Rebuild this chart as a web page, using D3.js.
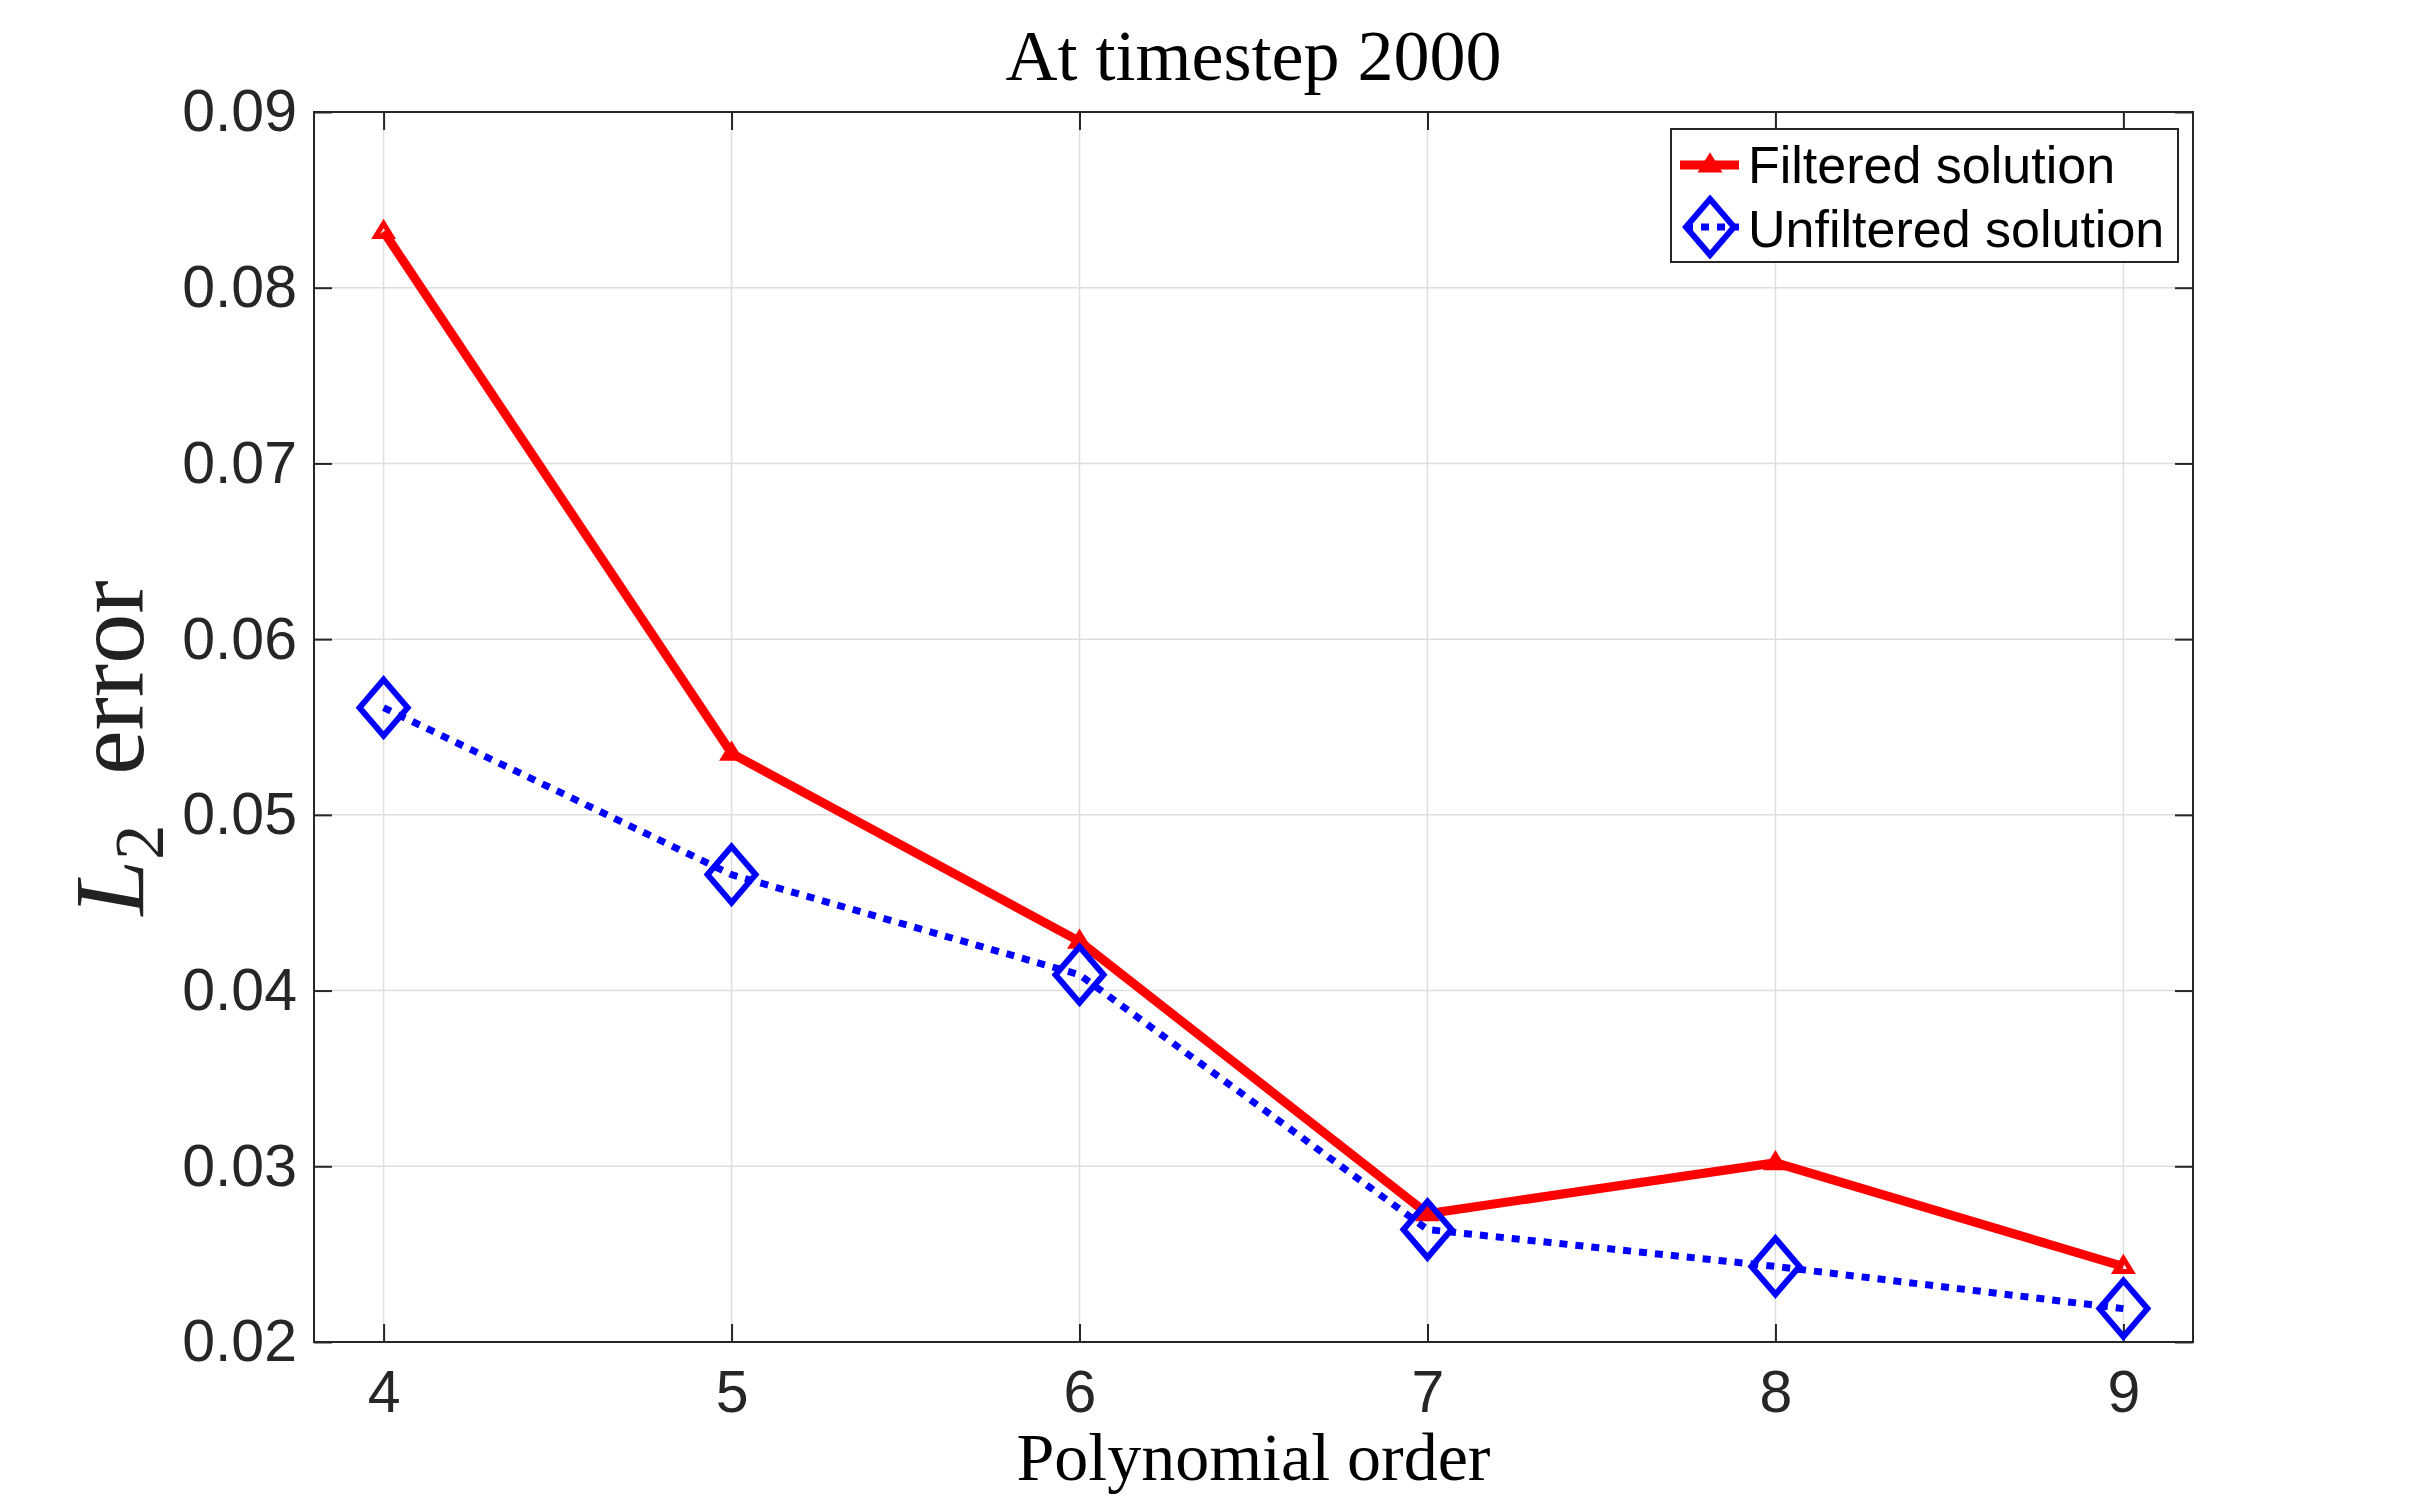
<!DOCTYPE html>
<html>
<head>
<meta charset="utf-8">
<script src="https://cdn.jsdelivr.net/npm/d3@7"></script>
<style>
    body { margin: 0; background: #fff; }
    .tick text { font-family: "Liberation Sans", Arial, sans-serif; fill: #262626; }
</style>
</head>
<body>
<div id="chart"></div>
<script>
const orders = [4, 5, 6, 7, 8, 9];
const filtered = [0.0832, 0.0535, 0.0428, 0.0273, 0.0302, 0.0243];
const unfiltered = [0.0561, 0.0466, 0.0409, 0.0264, 0.0243, 0.0219];
const yTicks = [0.02, 0.03, 0.04, 0.05, 0.06, 0.07, 0.08, 0.09];
const seriesNames = ["Filtered solution", "Unfiltered solution"];

const width = 2424, height = 1508;
const margin = {left: 314, right: 231, top: 112, bottom: 166};
const innerW = width - margin.left - margin.right;
const innerH = height - margin.top - margin.bottom;
const axisColor = "#262626";

let x = d3.scaleLinear().domain([3.8, 9.2]).range([0, innerW]);
let y = d3.scaleLinear().domain([0.02, 0.09]).range([innerH, 0]);

const svg = d3.select("#chart")
    .append("svg")
    .attr("width", width)
    .attr("height", height);

const g = svg.append("g")
    .attr("transform", "translate(" + margin.left + "," + margin.top + ")");

// grid
g.append("g")
    .selectAll("line")
    .data(orders)
    .enter().append("line")
    .attr("x1", d => x(d)).attr("x2", d => x(d))
    .attr("y1", 0).attr("y2", innerH)
    .attr("stroke", "#dedede").attr("stroke-width", 1.5);

g.append("g")
    .selectAll("line")
    .data(yTicks)
    .enter().append("line")
    .attr("x1", 0).attr("x2", innerW)
    .attr("y1", d => y(d)).attr("y2", d => y(d))
    .attr("stroke", "#dedede").attr("stroke-width", 1.5);

// axes, ticks pointing inward (MATLAB style)
let xAxis = d3.axisBottom(x).tickValues(orders).tickSize(-18).tickPadding(28).tickFormat(d3.format("d"));
let xAxisTop = d3.axisTop(x).tickValues(orders).tickSize(-18).tickFormat("");
let yAxis = d3.axisLeft(y).tickValues(yTicks).tickSize(-18).tickPadding(17).tickFormat(d3.format(".2f"));
let yAxisRight = d3.axisRight(y).tickValues(yTicks).tickSize(-18).tickFormat("");

function styleAxis(sel) {
    sel.select(".domain").remove();
    sel.selectAll(".tick line").attr("stroke", axisColor).attr("stroke-width", 2);
    sel.selectAll(".tick text").style("font-size", "59px");
}

g.append("g").attr("transform", "translate(0," + innerH + ")").call(xAxis).call(styleAxis);
g.append("g").call(xAxisTop).call(styleAxis);
g.append("g").call(yAxis).call(styleAxis);
g.append("g").attr("transform", "translate(" + innerW + ",0)").call(yAxisRight).call(styleAxis);

g.append("rect")
    .attr("width", innerW).attr("height", innerH)
    .attr("fill", "none")
    .attr("stroke", axisColor).attr("stroke-width", 2);

// lines
let line = d3.line()
    .x((d, i) => x(orders[i]))
    .y(d => y(d));

const triangle = "M0,-8L8,5L-8,5Z";
const diamond = "M0,-28L24,0L0,28L-24,0Z";

g.append("path")
    .datum(filtered)
    .attr("d", line)
    .attr("fill", "none")
    .attr("stroke", "#ff0000")
    .attr("stroke-width", 9)
    .attr("stroke-linejoin", "round");

g.selectAll(".tri")
    .data(filtered)
    .enter().append("path")
    .attr("class", "tri")
    .attr("d", triangle)
    .attr("transform", (d, i) => "translate(" + x(orders[i]) + "," + y(d) + ")")
    .attr("fill", "none")
    .attr("stroke", "#ff0000")
    .attr("stroke-width", 5);

g.append("path")
    .datum(unfiltered)
    .attr("d", line)
    .attr("fill", "none")
    .attr("stroke", "#0000ff")
    .attr("stroke-width", 7)
    .attr("stroke-dasharray", "8,8");

g.selectAll(".dia")
    .data(unfiltered)
    .enter().append("path")
    .attr("class", "dia")
    .attr("d", diamond)
    .attr("transform", (d, i) => "translate(" + x(orders[i]) + "," + y(d) + ")")
    .attr("fill", "none")
    .attr("stroke", "#0000ff")
    .attr("stroke-width", 6);

// legend
const legend = svg.append("g").attr("transform", "translate(1671,129)");

legend.append("rect")
    .attr("width", 507).attr("height", 133)
    .attr("fill", "#fff")
    .attr("stroke", axisColor).attr("stroke-width", 2);

legend.append("line")
    .attr("x1", 9).attr("x2", 68).attr("y1", 36).attr("y2", 36)
    .attr("stroke", "#ff0000").attr("stroke-width", 9);
legend.append("path")
    .attr("d", triangle)
    .attr("transform", "translate(39,36)")
    .attr("fill", "none").attr("stroke", "#ff0000").attr("stroke-width", 5);

legend.append("line")
    .attr("x1", 9).attr("x2", 68).attr("y1", 98).attr("y2", 98)
    .attr("stroke", "#0000ff").attr("stroke-width", 7)
    .attr("stroke-dasharray", "8,8").attr("stroke-dashoffset", -5);
legend.append("path")
    .attr("d", diamond)
    .attr("transform", "translate(39,98)")
    .attr("fill", "none").attr("stroke", "#0000ff").attr("stroke-width", 6);

legend.selectAll("text")
    .data(seriesNames)
    .enter().append("text")
    .attr("x", 77)
    .attr("y", (d, i) => 54 + i * 64)
    .style("font-family", "'Liberation Sans', Arial, sans-serif")
    .style("font-size", "52px")
    .attr("fill", "#000")
    .text(d => d);

// title and axis labels
svg.append("text")
    .attr("x", margin.left + innerW / 2)
    .attr("y", 80)
    .attr("text-anchor", "middle")
    .style("font-family", "'Liberation Serif', 'Times New Roman', serif")
    .style("font-size", "72px")
    .attr("fill", "#000")
    .text("At timestep 2000");

svg.append("text")
    .attr("x", margin.left + innerW / 2)
    .attr("y", 1480)
    .attr("text-anchor", "middle")
    .style("font-family", "'Liberation Serif', 'Times New Roman', serif")
    .style("font-size", "68px")
    .attr("fill", "#000")
    .text("Polynomial order");

const ylab = svg.append("text")
    .attr("transform", "translate(143,748) rotate(-90)")
    .attr("text-anchor", "middle")
    .style("font-family", "'Liberation Serif', 'Times New Roman', serif")
    .style("font-size", "100px")
    .attr("fill", "#222");
ylab.append("tspan").style("font-style", "italic").text("L");
ylab.append("tspan").attr("dy", 20).style("font-size", "70px").text("2");
ylab.append("tspan").attr("dy", -20).text("\u00a0\u00a0error");
</script>
</body>
</html>
